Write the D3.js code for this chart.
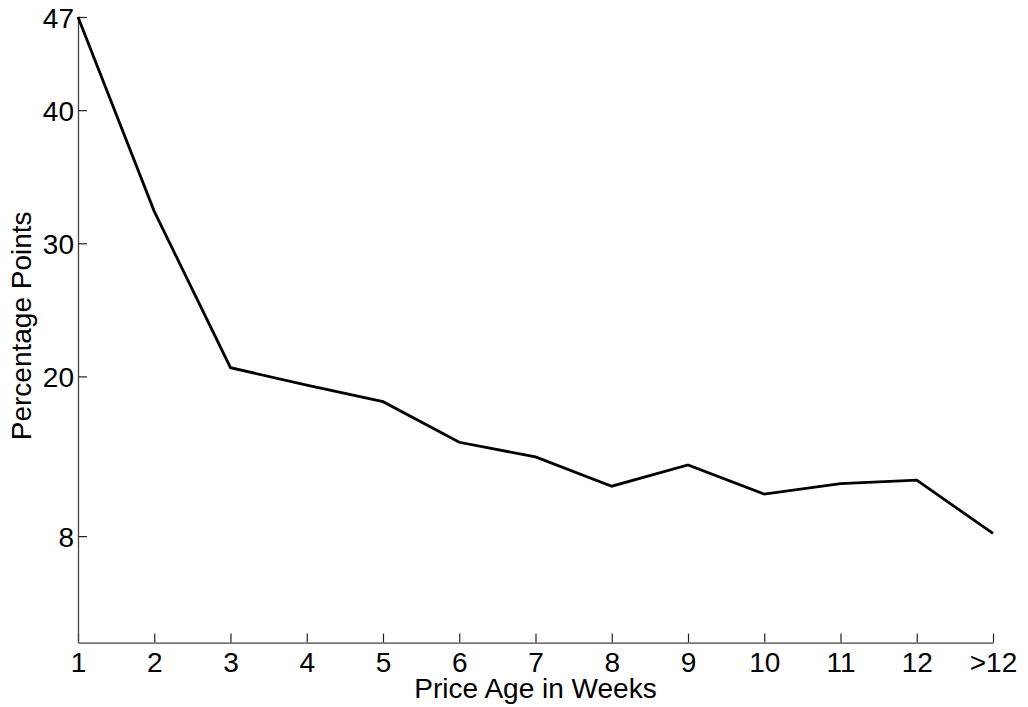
<!DOCTYPE html>
<html>
<head>
<meta charset="utf-8">
<script src="https://cdn.jsdelivr.net/npm/d3@7"></script>
<style>
	body{margin:0;background:#fff;}
	svg text{font-family:"Liberation Sans",Arial,sans-serif;fill:#000;}
</style>
</head>
<body>
<svg id="chart" width="1028" height="707"></svg>
<script>
// price age categories (weeks) and percentage points
let weeks=["1","2","3","4","5","6","7","8","9","10","11","12",">12"];
let percentPoints=[47,32.4,20.65,19.35,18.1,15.05,13.95,11.75,13.35,11.15,11.95,12.2,8.2];
let yTicks=[8,20,30,40,47];

let W=1028,H=707;
let margin={left:78,top:17,right:35,bottom:64.4};
let fontSize=28;

let svg=d3.select("#chart");

let x=d3.scalePoint().domain(weeks).range([margin.left,W-margin.right]).padding(0);
let y=d3.scaleLinear().domain([0,47]).range([H-margin.bottom,margin.top]);

let xAxis=d3.axisBottom(x).tickSizeInner(-9).tickSizeOuter(0).tickPadding(9.5);
let yAxis=d3.axisLeft(y).tickValues(yTicks).tickSizeInner(-9).tickSizeOuter(0).tickPadding(4).tickFormat(d3.format("d"));

let gx=svg.append("g").attr("transform","translate(0,"+(H-margin.bottom)+")").call(xAxis);
let gy=svg.append("g").attr("transform","translate("+margin.left+",0)").call(yAxis);

[gx,gy].forEach(g=>{
	g.select(".domain").attr("stroke","#444").attr("stroke-width",1.3);
	g.selectAll(".tick line").attr("stroke","#222").attr("stroke-width",1.2);
	g.selectAll(".tick text").attr("font-size",fontSize).attr("font-family","Liberation Sans, Arial, sans-serif").attr("fill","#000");
});
gy.selectAll(".tick text").attr("dy","0.36em");

let line=d3.line().x((d,i)=>x(weeks[i])).y(d=>y(d));
svg.append("path").datum(percentPoints)
	.attr("d",line)
	.attr("fill","none")
	.attr("stroke","#000")
	.attr("stroke-width",2.8)
	.attr("stroke-linejoin","miter");

svg.append("text")
	.attr("x",(x.range()[0]+x.range()[1])/2)
	.attr("y",698)
	.attr("text-anchor","middle")
	.attr("font-size",fontSize)
	.text("Price Age in Weeks");

svg.append("text")
	.attr("transform","translate(31,"+((y.range()[0]+y.range()[1])/2-4)+") rotate(-90)")
	.attr("text-anchor","middle")
	.attr("font-size",fontSize)
	.text("Percentage Points");
</script>
</body>
</html>
